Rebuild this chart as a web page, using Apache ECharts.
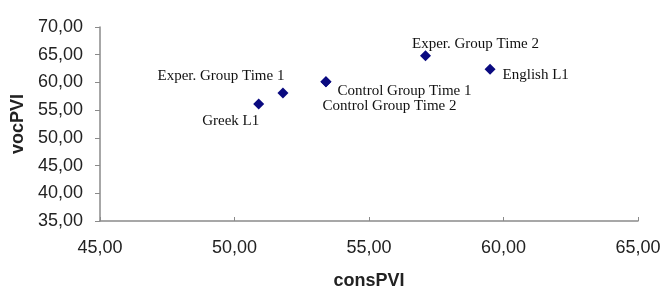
<!DOCTYPE html>
<html>
<head>
<meta charset="UTF-8">
<title>vocPVI vs consPVI</title>
<script src="https://cdn.jsdelivr.net/npm/echarts@6/dist/echarts.min.js"></script>
<style>
  html, body { margin: 0; padding: 0; background: #fff; }
  #main { width: 662px; height: 289px; }
</style>
</head>
<body>
<div id="main"></div>
<script type="text/javascript">
// data
var groups = ['Greek L1', 'Exper. Group Time 1', 'Control Group Time 1', 'Control Group Time 2', 'Exper. Group Time 2', 'English L1'];
var consPVI = [50.9, 51.8, 53.4, 53.4, 57.1, 59.5];
var vocPVI = [56.1, 58.1, 60.1, 60.1, 64.8, 62.4];
var xTicks = [45, 50, 55, 60, 65];
var yTicks = [35, 40, 45, 50, 55, 60, 65, 70];

(function () {
  var myChart = echarts.init(document.getElementById('main'));

  // where each label sits relative to its marker
  var labelPos = {
    'Greek L1': { position: 'bottom', offset: [-28, -1] },
    'Exper. Group Time 1': { position: 'left', offset: [12, -17] },
    'Control Group Time 1': { position: 'right', offset: [1, 9] },
    'Control Group Time 2': { position: 'right', offset: [-14, 24] },
    'Exper. Group Time 2': { position: 'top', offset: [50, 6] },
    'English L1': { position: 'right', offset: [2, 6] }
  };

  var pts = [];
  for (let i = 0; i < groups.length; i++) {
    let lp = labelPos[groups[i]];
    pts.push({
      name: groups[i],
      value: [consPVI[i], vocPVI[i]],
      label: { show: true, position: lp.position, offset: lp.offset }
    });
  }

  function comma(v) {
    return v.toFixed(2).replace('.', ',');
  }

  var option = {
    animation: false,
    grid: { left: 100, right: 24, top: 27, bottom: 68, containLabel: false, outerBoundsMode: 'none' },
    xAxis: {
      type: 'value',
      min: xTicks[0],
      max: xTicks[xTicks.length - 1],
      interval: 5,
      name: 'consPVI',
      nameLocation: 'middle',
      nameGap: 51,
      nameTextStyle: { fontFamily: 'Liberation Sans', fontWeight: 'bold', fontSize: 18, color: '#222' },
      splitLine: { show: false },
      axisLine: { lineStyle: { color: '#8a8a8a', width: 1.5 } },
      axisTick: { inside: true, length: 4, lineStyle: { color: '#8a8a8a' } },
      axisLabel: { formatter: comma, margin: 18, fontFamily: 'Liberation Sans', fontSize: 18, color: '#222' }
    },
    yAxis: {
      type: 'value',
      min: yTicks[0],
      max: yTicks[yTicks.length - 1],
      interval: 5,
      name: 'vocPVI',
      nameLocation: 'middle',
      nameGap: 66,
      nameTextStyle: { fontFamily: 'Liberation Sans', fontWeight: 'bold', fontSize: 18, color: '#222' },
      splitLine: { show: false },
      axisLine: { show: true, lineStyle: { color: '#8a8a8a', width: 1.5 } },
      axisTick: { show: true, length: 5, lineStyle: { color: '#8a8a8a' } },
      axisLabel: { formatter: comma, margin: 17, fontFamily: 'Liberation Sans', fontSize: 18, color: '#222' }
    },
    series: [
      {
        type: 'scatter',
        symbol: 'diamond',
        symbolSize: 11,
        itemStyle: { color: '#0a0a80', opacity: 1 },
        label: {
          formatter: '{b}',
          fontFamily: 'Liberation Serif',
          fontSize: 15,
          color: '#111'
        },
        data: pts
      }
    ]
  };

  myChart.setOption(option);
})();
</script>
</body>
</html>
